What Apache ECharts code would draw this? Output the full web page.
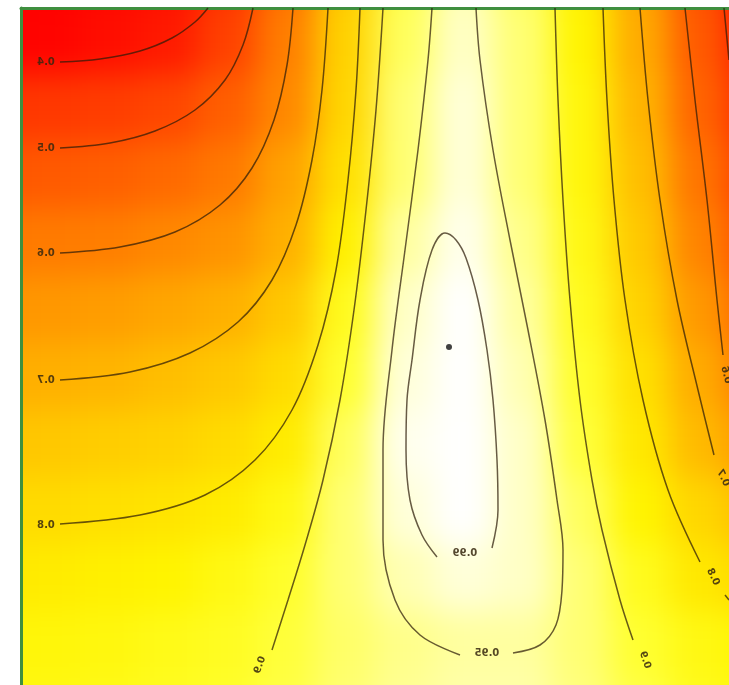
<!DOCTYPE html>
<html>
<head>
<meta charset="utf-8">
<script src="https://cdn.jsdelivr.net/npm/echarts@6/dist/echarts.min.js"></script>
<style>
html,body{margin:0;padding:0;background:#fff;overflow:hidden;width:729px;height:685px}
#chart{position:absolute;left:-60px;top:-60px;width:849px;height:805px}
</style>
</head>
<body>
<div id="chart"></div>
<script>
// ---- background field (read from colours), rows top -> bottom, incl. one estimated ring outside the frame
const heatRow00 = [0.28,0.30,0.33,0.36,0.44,0.57,0.75,0.91,0.96,0.92,0.84,0.67,0.51,0.35];
const heatRow01 = [0.30,0.32,0.36,0.39,0.48,0.60,0.77,0.92,0.97,0.93,0.85,0.69,0.53,0.38];
const heatRow02 = [0.45,0.46,0.47,0.49,0.54,0.62,0.78,0.93,0.98,0.93,0.86,0.71,0.55,0.42];
const heatRow03 = [0.52,0.53,0.54,0.56,0.59,0.67,0.80,0.93,0.98,0.93,0.86,0.73,0.58,0.46];
const heatRow04 = [0.59,0.595,0.60,0.62,0.64,0.70,0.84,0.95,0.99,0.94,0.87,0.75,0.61,0.50];
const heatRow05 = [0.64,0.65,0.66,0.68,0.70,0.75,0.88,0.97,1.00,0.95,0.88,0.77,0.65,0.54];
const heatRow06 = [0.69,0.70,0.71,0.73,0.75,0.79,0.90,0.98,1.00,0.96,0.895,0.80,0.69,0.58];
const heatRow07 = [0.74,0.75,0.76,0.77,0.79,0.83,0.92,0.99,1.00,0.97,0.905,0.82,0.72,0.64];
const heatRow08 = [0.79,0.79,0.80,0.81,0.83,0.87,0.93,0.98,1.00,0.97,0.92,0.85,0.78,0.72];
const heatRow09 = [0.82,0.83,0.84,0.85,0.87,0.895,0.93,0.96,0.98,0.97,0.93,0.88,0.82,0.78];
const heatRow10 = [0.855,0.86,0.865,0.875,0.885,0.905,0.925,0.94,0.95,0.95,0.93,0.90,0.87,0.85];
const heatRow11 = [0.87,0.87,0.875,0.885,0.895,0.91,0.93,0.945,0.955,0.955,0.935,0.91,0.88,0.86];

// ---- contour lines (x, y data coordinates), each level = list of segments
const contour04 = [
  [[0.39,6.23],[0.79,6.26],[1.19,6.34],[1.51,6.47],[1.74,6.63],[1.87,6.77]]
];
const contour05 = [
  [[0.39,5.37],[0.89,5.42],[1.34,5.54],[1.74,5.75],[2.04,6.05],[2.22,6.40],[2.32,6.77]],
  [[7.03,6.77],[7.08,6.25]]
];
const contour06 = [
  [[0.39,4.32],[0.99,4.38],[1.54,4.53],[1.99,4.80],[2.31,5.17],[2.53,5.65],[2.66,6.20],[2.72,6.77]],
  [[6.64,6.77],[6.74,5.85],[6.86,4.85],[6.96,3.85],[7.02,3.30]]
];
const contour07 = [
  [[0.39,3.05],[1.09,3.13],[1.69,3.32],[2.17,3.63],[2.51,4.05],[2.75,4.60],[2.91,5.25],[3.01,5.95],[3.07,6.77]],
  [[6.19,6.77],[6.27,5.85],[6.39,4.85],[6.56,3.85],[6.77,2.95],[6.93,2.30]]
];
const contour08 = [
  [[0.39,1.61],[1.19,1.70],[1.84,1.90],[2.34,2.25],[2.71,2.75],[2.97,3.40],[3.15,4.15],[3.27,5.05],[3.35,5.95],[3.39,6.77]],
  [[5.82,6.77],[5.86,5.85],[5.93,4.85],[6.04,3.85],[6.22,2.85],[6.47,1.95],[6.79,1.23]],
  [[7.04,0.90],[7.08,0.85]]
];
const contour09 = [
  [[2.51,0.35],[2.67,0.85],[2.84,1.40],[3.02,2.05],[3.19,2.85],[3.33,3.75],[3.45,4.75],[3.55,5.75],[3.62,6.77]],
  [[5.34,6.77],[5.37,5.85],[5.42,4.85],[5.49,3.85],[5.59,2.85],[5.71,2.05],[5.81,1.55],[5.99,0.85],[6.12,0.45]]
];
const contour095 = [
  [[4.11,6.77],[4.07,6.25],[3.97,5.35],[3.84,4.35],[3.71,3.35],[3.62,2.35],[3.62,1.45],[3.74,0.85],[3.99,0.50],[4.39,0.30]],
  [[4.92,0.32],[5.19,0.40],[5.35,0.60],[5.41,0.95],[5.42,1.35],[5.36,1.85],[5.24,2.65],[5.07,3.55],[4.89,4.45],[4.72,5.35],[4.59,6.25],[4.55,6.77]]
];
const contour099 = [
  [[4.71,1.37],[4.77,1.75],[4.76,2.25],[4.72,2.85],[4.66,3.35],[4.57,3.85],[4.45,4.27],[4.35,4.45],[4.24,4.52],[4.11,4.35],[3.99,3.85],[3.91,3.25],[3.86,2.85],[3.85,2.35],[3.89,1.85],[4.01,1.50],[4.16,1.28]]
];

// ---- contour labels
const labelText  = ['0.4','0.5','0.6','0.7','0.8','0.9','0.9','0.8','0.7','0.6','0.95','0.99'];
const labelX     = [0.25,0.25,0.25,0.25,0.25,2.39,6.24,6.92,7.02,7.05,4.66,4.44];
const labelY     = [6.23,5.37,4.32,3.05,1.60,0.20,0.25,1.08,2.07,3.10,0.32,1.32];
const labelAngle = [0,0,0,0,0,70,-70,-65,-65,-75,0,0];

// ---- maximum point
const peakPoint = [4.28,3.38];

const heatRows = [heatRow00,heatRow01,heatRow02,heatRow03,heatRow04,heatRow05,heatRow06,heatRow07,heatRow08,heatRow09,heatRow10,heatRow11];
const nRows = heatRows.length, nCols = heatRow00.length;
const colCats = Array.from({length:nCols},(_,i)=>String(i));
const rowCats = Array.from({length:nRows},(_,i)=>String(i));
const heatData = [];
heatRows.forEach((row,r)=>row.forEach((v,c)=>heatData.push([c,nRows-1-r,v])));

const lineStyle = {color:'rgba(45,28,8,0.72)', width:1.5};
const series = [{
  type:'heatmap', xAxisIndex:0, yAxisIndex:0, zlevel:0, data:heatData,
  itemStyle:{borderWidth:0}, emphasis:{disabled:true}, silent:true, progressive:0
}];
[contour04,contour05,contour06,contour07,contour08,contour09,contour095,contour099].forEach(level=>{
  level.forEach(seg=>{
    series.push({type:'line', xAxisIndex:1, yAxisIndex:1, zlevel:1, data:seg, showSymbol:false,
      smooth:0.35, lineStyle:lineStyle, silent:true, animation:false});
  });
});
series.push({
  type:'custom', xAxisIndex:1, yAxisIndex:1, zlevel:1, silent:true,
  data: labelText.map((t,i)=>[labelX[i],labelY[i],labelAngle[i]]),
  renderItem:(params,api)=>{
    const p = api.coord([api.value(0),api.value(1)]);
    return {type:'text', x:p[0], y:p[1], rotation:api.value(2)*Math.PI/180, scaleX:-1,
      style:{text:labelText[params.dataIndex], fill:'rgba(55,40,15,0.85)',
             font:'bold 10px "DejaVu Sans", sans-serif', align:'center', verticalAlign:'middle'}};
  }
});
series.push({type:'scatter', xAxisIndex:1, yAxisIndex:1, zlevel:1, data:[peakPoint],
  symbolSize:6, itemStyle:{color:'#111'}, silent:true});

const chart = echarts.init(document.getElementById('chart'));
chart.setOption({
  animation:false,
  grid:[
    {left:22, top:0, width:826, height:812.4},
    {left:81, top:68, width:708, height:677}
  ],
  xAxis:[
    {type:'category', gridIndex:0, data:colCats, show:false, boundaryGap:true},
    {type:'value', gridIndex:1, min:0, max:7.08, position:'top', zlevel:1,
     axisLine:{show:true, onZero:false, lineStyle:{color:'#3f8f3f', width:3}},
     axisTick:{show:false}, axisLabel:{show:false}, splitLine:{show:false}}
  ],
  yAxis:[
    {type:'category', gridIndex:0, data:rowCats, show:false, boundaryGap:true},
    {type:'value', gridIndex:1, min:0, max:6.77, position:'left', zlevel:1,
     axisLine:{show:true, onZero:false, lineStyle:{color:'#3f8f3f', width:3}},
     axisTick:{show:false}, axisLabel:{show:false}, splitLine:{show:false}}
  ],
  visualMap:{show:false, type:'continuous', seriesIndex:0, dimension:2, min:0.3, max:1.0,
    inRange:{color:['#ff0000','#ff0a00','#ff1e00','#ff3400','#ff4a00','#ff6400','#ff7e00','#ff9800',
                    '#ffb000','#ffc800','#ffe000','#fff400','#ffff30','#ffffa0','#ffffff']}},
  series:series
});

function softenField(){
  const c = document.querySelector('#chart canvas[data-zr-dom-id="zr_0"]') || document.querySelector('#chart canvas');
  if(c){ c.style.filter='blur(16px)'; c.style.clipPath='inset(68px 60px 60px 81px)'; }
}
softenField();
chart.on('finished', softenField);
</script>
</body>
</html>
